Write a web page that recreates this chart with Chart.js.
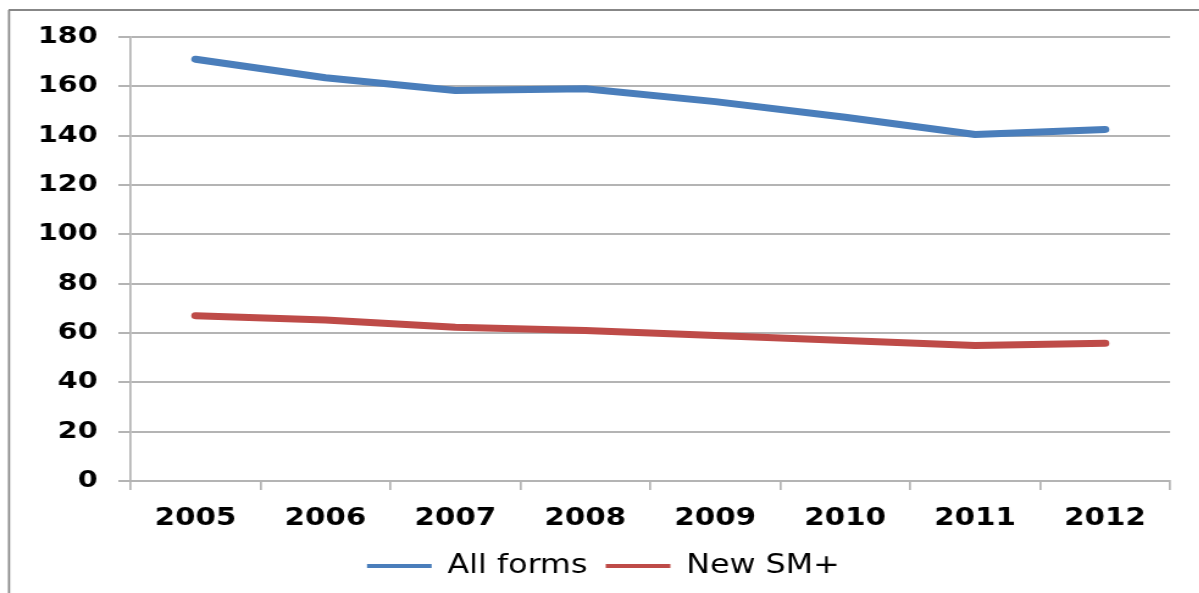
<!DOCTYPE html>
<html>
<head>
<meta charset="utf-8">
<script src="https://cdn.jsdelivr.net/npm/chart.js@4/dist/chart.umd.min.js"></script>
<style>
  html, body { margin: 0; padding: 0; background: #fff; overflow: hidden; }
  /* canvas is drawn narrow and stretched wide, so the text gets the wide look */
  #trendChart { display: block; transform: scaleX(1.22); transform-origin: 0 0; }
</style>
</head>
<body>
<canvas id="trendChart" width="983" height="593"></canvas>
<script>
// data
const years = ["2005", "2006", "2007", "2008", "2009", "2010", "2011", "2012"];
const allForms = [171, 163.5, 158.3, 159, 153.8, 147.5, 140.5, 142.5];
const newSM = [67, 65.3, 62.3, 61, 59, 57, 54.9, 55.8];
const seriesNames = ["All forms", "New SM+"];
const seriesColors = ["#4a7ebb", "#be4b48"];

const gridColor = "#b4b4b4";
const frameColor = "#878787";

// white page plus the gray frame round the chart
const framePlugin = {
  id: "frame",
  beforeDraw(chart) {
    const ctx = chart.ctx;
    ctx.save();
    ctx.fillStyle = "#fff";
    ctx.fillRect(0, 0, chart.width, chart.height);
    ctx.strokeStyle = frameColor;
    ctx.lineWidth = 2;
    ctx.beginPath();
    ctx.moveTo(7, 10);
    ctx.lineTo(chart.width, 10);
    ctx.stroke();
    ctx.lineWidth = 1.7;
    ctx.beginPath();
    ctx.moveTo(7.4, 10);
    ctx.lineTo(7.4, chart.height);
    ctx.stroke();
    ctx.restore();
  }
};

const trendChart = document.getElementById("trendChart");

new Chart(trendChart, {
  type: "line",
  data: {
    labels: years,
    datasets: [
      {
        label: seriesNames[0],
        data: allForms,
        borderColor: seriesColors[0],
        backgroundColor: seriesColors[0],
        borderWidth: 7,
        borderCapStyle: "round",
        borderJoinStyle: "round",
        pointRadius: 0,
        tension: 0,
      },
      {
        label: seriesNames[1],
        data: newSM,
        borderColor: seriesColors[1],
        backgroundColor: seriesColors[1],
        borderWidth: 7,
        borderCapStyle: "round",
        borderJoinStyle: "round",
        pointRadius: 0,
        tension: 0,
      },
    ],
  },
  options: {
    responsive: false,
    animation: false,
    layout: {
      padding: { top: 37, right: 24, bottom: 4, left: 30 }
    },
    scales: {
      x: {
        offset: true,
        afterFit(scale) { scale.height = 57; },
        grid: {
          offset: true,
          drawOnChartArea: false,
          drawTicks: true,
          tickLength: 9,
          color: gridColor,
          lineWidth: 1.7,
        },
        border: { display: true, color: gridColor, width: 2 },
        ticks: {
          color: "#000",
          padding: 14,
          maxRotation: 0,
          font: { family: "DejaVu Sans", size: 24, weight: "bold" },
        },
      },
      y: {
        min: 0,
        max: 180,
        afterFit(scale) { scale.width = 77; },
        grid: {
          color: gridColor,
          lineWidth: 2,
          tickLength: 10,
        },
        border: { display: true, color: gridColor, width: 1.7 },
        ticks: {
          stepSize: 20,
          color: "#000",
          padding: 17,
          font: { family: "DejaVu Sans", size: 23.5, weight: "bold" },
        },
      },
    },
    plugins: {
      tooltip: { enabled: false },
      legend: {
        display: true,
        position: "bottom",
        labels: {
          boxWidth: 53,
          boxHeight: 4,
          padding: 15,
          color: "#000",
          font: { family: "DejaVu Sans", size: 26 },
          generateLabels(chart) {
            return chart.data.datasets.map((ds, i) => ({
              text: ds.label,
              fillStyle: ds.borderColor,
              strokeStyle: ds.borderColor,
              lineWidth: 0,
              fontColor: "#000",
              hidden: false,
              datasetIndex: i,
            }));
          },
        },
      },
    },
  },
  plugins: [framePlugin],
});
</script>
</body>
</html>
